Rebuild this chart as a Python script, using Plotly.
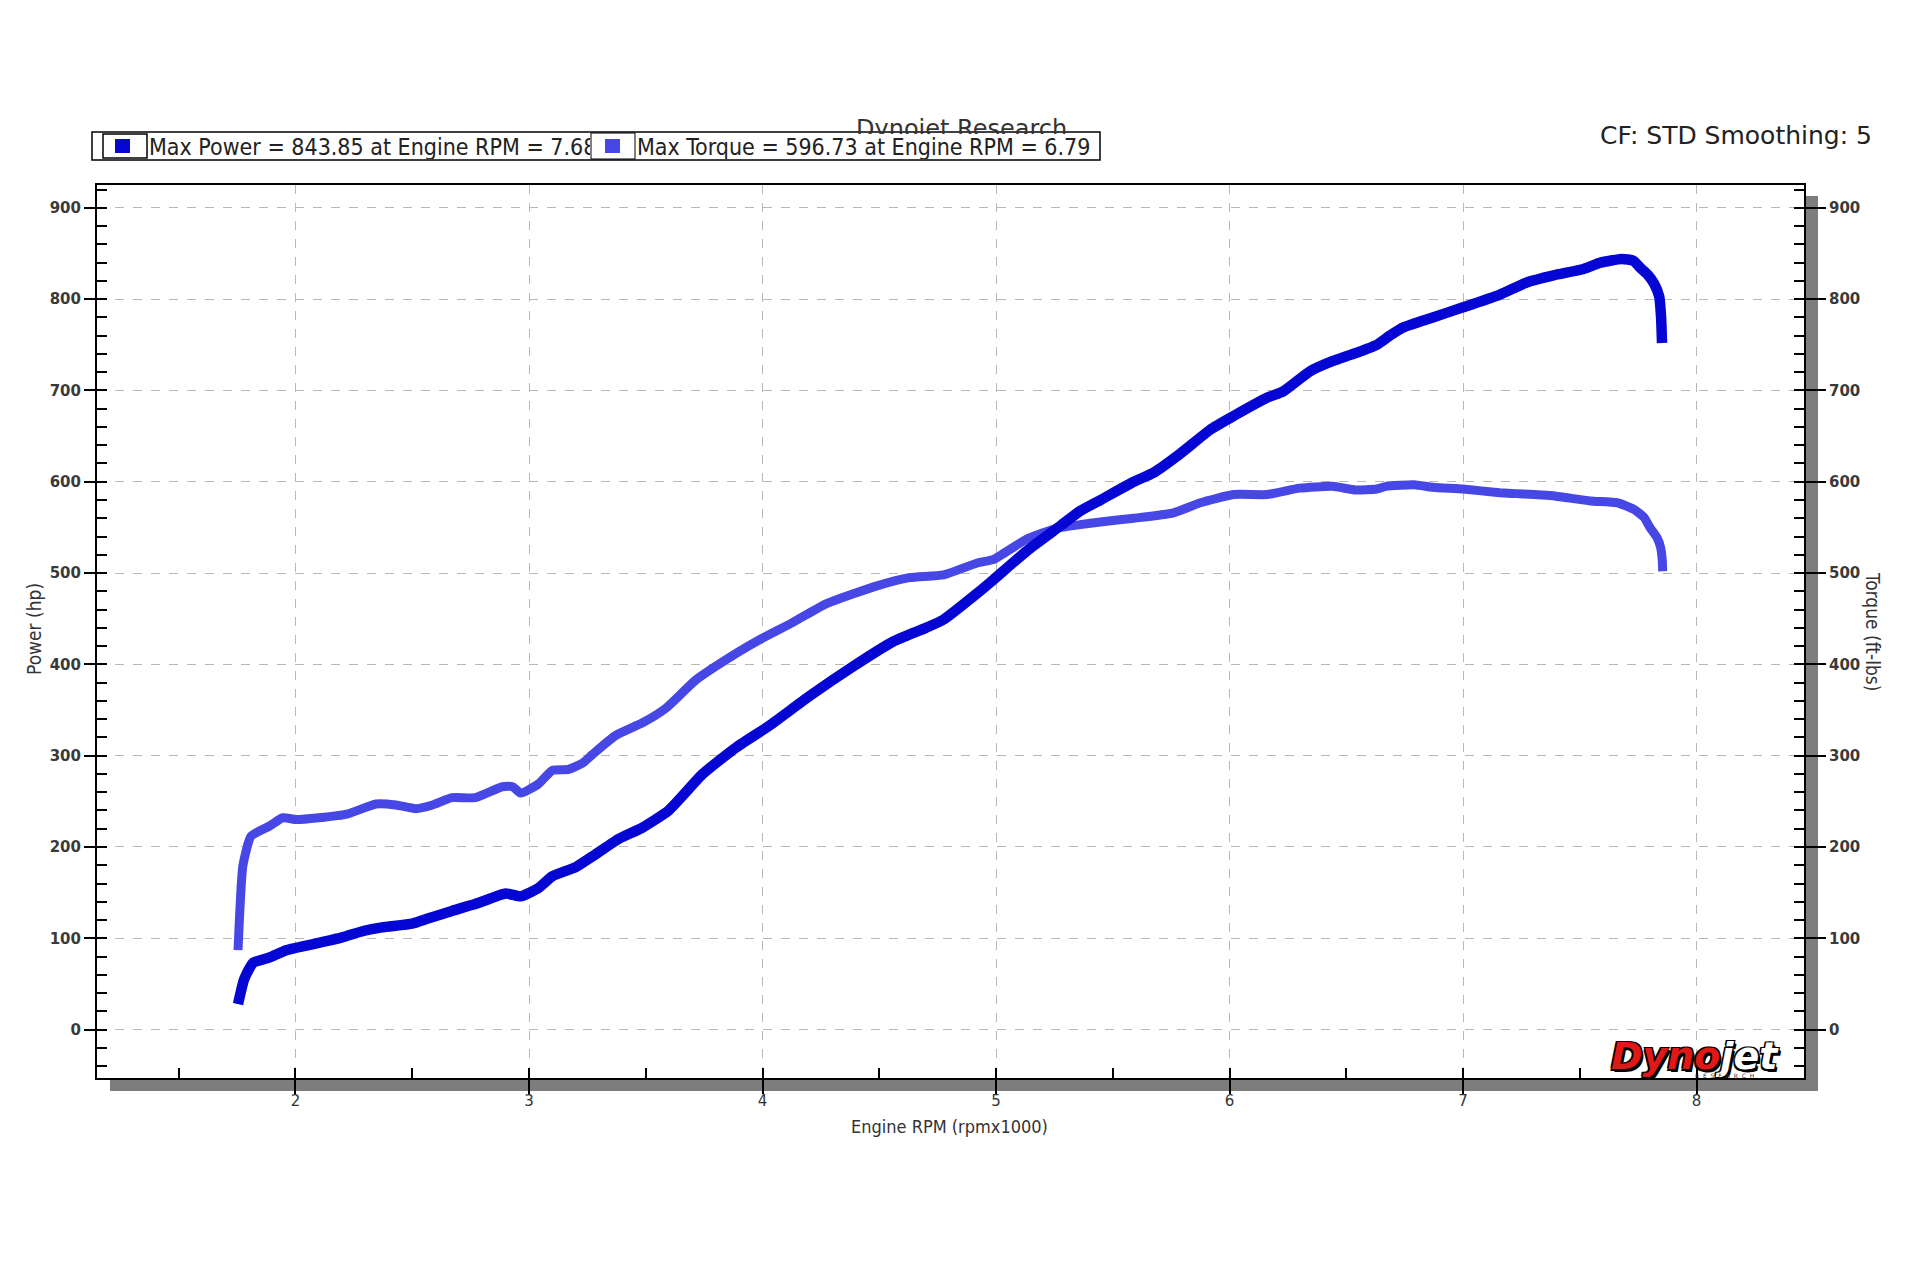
import plotly.graph_objects as go

# ---------------- data ----------------
power_rpm = [1.754, 1.78, 1.818, 1.889, 1.96, 2.046, 2.117, 2.20, 2.29, 2.37, 2.50, 2.56,
             2.67, 2.786, 2.90, 2.964, 3.04, 3.10, 3.20, 3.285, 3.385, 3.484, 3.598, 3.744,
             3.887, 4.03, 4.20, 4.39, 4.56, 4.70, 4.775, 4.92, 4.99, 5.14, 5.277, 5.36,
             5.447, 5.59, 5.675, 5.79, 5.917, 6.017, 6.16, 6.23, 6.345, 6.44, 6.53, 6.63,
             6.686, 6.743, 6.87, 7.0, 7.158, 7.27, 7.387, 7.516, 7.588, 7.68, 7.73, 7.76,
             7.79, 7.818, 7.84, 7.848, 7.852]
power_hp = [28, 55, 73, 79, 87, 92, 96, 101, 108, 112, 116, 121,
            130, 139, 149, 146, 155, 168, 178, 192, 209, 221, 240, 280,
            309, 333, 365, 398, 425, 440, 449, 478, 493, 526, 552, 568,
            580, 600, 610, 631, 657, 672, 692, 699, 721, 732, 740, 750,
            760, 769, 780, 791, 805, 818, 826, 833, 840, 844, 842, 834,
            827, 817, 803, 780, 752]

torque_rpm = [1.754, 1.775, 1.81, 1.889, 1.946, 2.003, 2.10, 2.22, 2.345, 2.43, 2.516, 2.587,
              2.67, 2.77, 2.886, 2.93, 2.964, 3.04, 3.10, 3.17, 3.23, 3.27, 3.37, 3.486,
              3.586, 3.715, 3.887, 3.987, 4.13, 4.27, 4.49, 4.63, 4.775, 4.92, 4.99, 5.13,
              5.26, 5.36, 5.447, 5.59, 5.76, 5.875, 6.017, 6.16, 6.30, 6.44, 6.54, 6.63,
              6.67, 6.79, 6.87, 7.0, 7.157, 7.23, 7.373, 7.545, 7.66, 7.73, 7.775, 7.80,
              7.83, 7.846, 7.853, 7.855]
torque_ftlb = [87, 180, 212, 223, 232, 230, 232, 236, 247, 246, 242, 246,
               254, 254, 266, 266, 259, 269, 284, 285, 292, 301, 322, 336,
               352, 383, 412, 427, 446, 466, 486, 495, 498, 511, 515, 537,
               549, 553, 556, 560, 566, 577, 586, 586, 593, 595, 591, 592,
               595, 596.7, 594, 592, 588, 587, 585, 579, 577, 570, 561, 550,
               539, 528, 514, 502]

x_ticks = [2, 3, 4, 5, 6, 7, 8]
y_ticks = [0, 100, 200, 300, 400, 500, 600, 700, 800, 900]

legend_power = "Max Power = 843.85 at Engine RPM = 7.68"
legend_torque = "Max Torque = 596.73 at Engine RPM = 6.79"

POWER_COLOR = "#0505d4"
TORQUE_COLOR = "#4747e6"

# ---------------- layout geometry (page pixels) ----------------
OFF = 8                      # default body margin of the html page
W, H = 1920 - 2 * OFF, 1280 - 2 * OFF
L, R, T, B = 97, 1804, 185, 1078   # plot frame in page pixels
PW, PH = R - L, B - T


def fx(px):
    return (px - L) / PW


def fy(py):
    return (B - py) / PH


fig = go.Figure()
fig.add_trace(go.Scatter(x=torque_rpm, y=torque_ftlb, mode="lines", yaxis="y",
                         line=dict(color=TORQUE_COLOR, width=9, shape="spline", smoothing=0.5),
                         showlegend=False))
fig.add_trace(go.Scatter(x=power_rpm, y=power_hp, mode="lines", yaxis="y2",
                         line=dict(color=POWER_COLOR, width=10.5, shape="spline", smoothing=0.5),
                         showlegend=False))

tickfont_y = dict(family="DejaVu Sans", size=15, color="#3a3a3a", weight="bold")
yrange = [-53, 925]

fig.update_layout(
    width=W, height=H,
    margin=dict(l=L - OFF, r=W - (R - OFF), t=T - OFF, b=H - (B - OFF), pad=0),
    paper_bgcolor="white", plot_bgcolor="white",
    showlegend=False,
    xaxis=dict(range=[1.15, 8.46], tickvals=x_ticks, ticktext=[str(v) for v in x_ticks],
               showgrid=True, gridcolor="#b8b8b8", griddash="dash", gridwidth=1,
               zeroline=False, showline=True, linecolor="black", linewidth=2, mirror=True,
               ticks="outside", ticklen=14, tickwidth=2, tickcolor="black",
               ticklabelstandoff=-6,
               tickfont=dict(family="DejaVu Sans", size=15, color="#333333"),
               minor=dict(dtick=0.5, tick0=0, ticks="inside", ticklen=10, tickwidth=2,
                          tickcolor="black", showgrid=False)),
    yaxis=dict(range=yrange, tickvals=y_ticks,
               showgrid=True, gridcolor="#b8b8b8", griddash="dash", gridwidth=1,
               zeroline=False, showline=True, linecolor="black", linewidth=2,
               ticks="outside", ticklen=11, tickwidth=2, tickcolor="black",
               tickfont=tickfont_y,
               minor=dict(dtick=20, tick0=0, ticks="inside", ticklen=10, tickwidth=2,
                          tickcolor="black", showgrid=False)),
    yaxis2=dict(range=yrange, tickvals=y_ticks, overlaying="y", side="right",
                showgrid=False, zeroline=False, showline=True, linecolor="black", linewidth=2,
                ticks="outside", ticklen=20, tickwidth=2, tickcolor="black",
                tickfont=tickfont_y,
                minor=dict(dtick=20, tick0=0, ticks="inside", ticklen=10, tickwidth=2,
                           tickcolor="black", showgrid=False)),
)

shapes = []
# drop shadow (right and bottom)
shapes.append(dict(type="rect", xref="paper", yref="paper", layer="below",
                   x0=fx(R + 2), x1=fx(R + 14), y0=fy(1091), y1=fy(196),
                   fillcolor="#7d7d7d", line=dict(width=0)))
shapes.append(dict(type="rect", xref="paper", yref="paper", layer="below",
                   x0=fx(110), x1=fx(R + 14), y0=fy(1091), y1=fy(B + 2),
                   fillcolor="#7d7d7d", line=dict(width=0)))
# legend frame
shapes.append(dict(type="rect", xref="paper", yref="paper", layer="above",
                   x0=fx(92), x1=fx(1100), y0=fy(160), y1=fy(132),
                   line=dict(color="black", width=1.5), fillcolor="rgba(0,0,0,0)"))
shapes.append(dict(type="rect", xref="paper", yref="paper", layer="above",
                   x0=fx(103), x1=fx(147), y0=fy(158), y1=fy(134),
                   line=dict(color="black", width=1.5), fillcolor="white"))
shapes.append(dict(type="rect", xref="paper", yref="paper", layer="above",
                   x0=fx(115), x1=fx(130), y0=fy(153), y1=fy(139),
                   line=dict(width=0), fillcolor=POWER_COLOR))
shapes.append(dict(type="rect", xref="paper", yref="paper", layer="above",
                   x0=fx(591), x1=fx(635), y0=fy(159), y1=fy(133),
                   line=dict(color="black", width=1), fillcolor="white"))
shapes.append(dict(type="rect", xref="paper", yref="paper", layer="above",
                   x0=fx(605), x1=fx(620), y0=fy(153), y1=fy(139),
                   line=dict(width=0), fillcolor=TORQUE_COLOR))

ann = []
# chart title, partly covered by the legend bar (as in the original)
ann.append(dict(text="Dynojet Research", xref="paper", yref="paper", x=fx(961), y=fy(129),
                xanchor="center", yanchor="middle", showarrow=False,
                font=dict(family="DejaVu Sans", size=24, color="#333333")))
legend_font = dict(family="DejaVu Sans Condensed, DejaVu Sans", size=23, color="#222222")
ann.append(dict(text=legend_power, xref="paper", yref="paper", x=fx(149), y=fy(146),
                xanchor="left", yanchor="middle", showarrow=False, align="left",
                width=441, height=25, bgcolor="white", borderpad=0, borderwidth=0,
                font=legend_font))
ann.append(dict(text=legend_torque, xref="paper", yref="paper", x=fx(637), y=fy(146),
                xanchor="left", yanchor="middle", showarrow=False, align="left",
                width=461, height=25, bgcolor="white", borderpad=0, borderwidth=0,
                font=legend_font))
ann.append(dict(text="CF: STD Smoothing: 5", xref="paper", yref="paper", x=fx(1874), y=fy(135),
                xanchor="right", yanchor="middle", showarrow=False,
                font=dict(family="DejaVu Sans", size=25, color="#222222")))
# axis titles
axis_title_font = dict(family="DejaVu Sans Condensed, DejaVu Sans", size=19, color="#333333")
ann.append(dict(text="Power (hp)", xref="paper", yref="paper", x=fx(34), y=fy(629),
                xanchor="center", yanchor="middle", showarrow=False, textangle=-90,
                font=axis_title_font))
ann.append(dict(text="Torque (ft-lbs)", xref="paper", yref="paper", x=fx(1873), y=fy(631),
                xanchor="center", yanchor="middle", showarrow=False, textangle=90,
                font=axis_title_font))
ann.append(dict(text="Engine RPM (rpmx1000)", xref="paper", yref="paper", x=fx(949), y=fy(1126),
                xanchor="center", yanchor="middle", showarrow=False,
                font=dict(family="DejaVu Sans Condensed, DejaVu Sans", size=18, color="#333333")))
# Dynojet logo
outline = ("-1.5px -1.5px 0 #000, 1.5px -1.5px 0 #000, -1.5px 1.5px 0 #000, "
           "1.5px 1.5px 0 #000, 2.5px 2.5px 0 #000")
ann.append(dict(text="<b><i>Dyno<span style='color:white'>jet</span></i></b>",
                xref="paper", yref="paper", x=fx(1695), y=fy(1056),
                xanchor="center", yanchor="middle", showarrow=False,
                font=dict(family="DejaVu Sans", size=38, color="#e01818", shadow=outline)))
ann.append(dict(text="R  E  S  E  A  R  C  H", xref="paper", yref="paper", x=fx(1724), y=fy(1075),
                xanchor="center", yanchor="middle", showarrow=False,
                font=dict(family="DejaVu Sans", size=6, color="#333333")))

fig.update_layout(shapes=shapes, annotations=ann)
fig.write_html("out.html")
